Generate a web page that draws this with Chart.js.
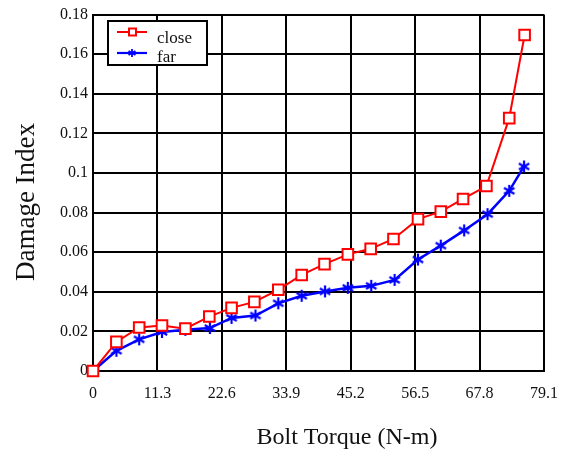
<!DOCTYPE html>
<html>
<head>
<meta charset="utf-8">
<script src="https://cdn.jsdelivr.net/npm/chart.js@4/dist/chart.umd.min.js"></script>
<style>
  html, body { margin: 0; padding: 0; background: #fff; }
  canvas { display: block; }
</style>
</head>
<body>
<canvas id="chartDamage" width="571" height="454"></canvas>
<script>
// Bolt torque (N-m) and damage index
const closeX = [0, 4.1, 8.1, 12.1, 16.2, 20.4, 24.3, 28.3, 32.5, 36.6, 40.6, 44.7, 48.7, 52.7, 57.0, 61.0, 64.9, 69.0, 73.0, 75.7];
const closeY = [0, 0.0147, 0.022, 0.023, 0.0214, 0.0275, 0.0319, 0.0349, 0.041, 0.0485, 0.054, 0.0589, 0.0617, 0.0667, 0.0767, 0.0805, 0.0869, 0.0934, 0.1277, 0.1697];
const farX = [0, 4.1, 8.1, 12.1, 16.2, 20.5, 24.3, 28.5, 32.5, 36.6, 40.7, 44.7, 48.8, 52.9, 57.0, 61.0, 65.1, 69.2, 73.0, 75.6];
const farY = [0, 0.0102, 0.016, 0.0197, 0.0208, 0.0217, 0.0268, 0.028, 0.0342, 0.038, 0.0402, 0.042, 0.043, 0.046, 0.0563, 0.0633, 0.071, 0.0792, 0.091, 0.1033];
const xTicks = [0, 11.3, 22.6, 33.9, 45.2, 56.5, 67.8, 79.1];
const yTicks = [0, 0.02, 0.04, 0.06, 0.08, 0.1, 0.12, 0.14, 0.16, 0.18];

const FONT = "'Liberation Serif', 'DejaVu Serif', serif";

// asterisk marker (vertical + two diagonals)
function makeStar(size, lw) {
  const c = document.createElement("canvas");
  c.width = size; c.height = size;
  const g = c.getContext("2d");
  const r = size / 2 - 1;
  g.strokeStyle = "#0000ff";
  g.lineWidth = lw;
  g.translate(size / 2, size / 2);
  for (let i = 0; i < 3; i++) {
    const a = Math.PI / 2 + i * Math.PI / 3;
    g.beginPath();
    g.moveTo(Math.cos(a) * r, Math.sin(a) * r);
    g.lineTo(-Math.cos(a) * r, -Math.sin(a) * r);
    g.stroke();
  }
  return c;
}
const starBig = makeStar(14, 2.2);
const starSmall = makeStar(10, 1.8);

const pts = (xs, ys) => xs.map((x, i) => ({ x: x, y: ys[i] }));

// titles and boxed legend drawn on top
const decorations = {
  id: "decorations",
  afterDraw(chart) {
    const ctx = chart.ctx;
    ctx.save();
    ctx.fillStyle = "#111";
    ctx.textAlign = "center";
    ctx.textBaseline = "middle";
    ctx.font = "24px " + FONT;
    ctx.fillText("Bolt Torque (N-m)", 347, 438);
    ctx.save();
    ctx.translate(27, 202);
    ctx.rotate(-Math.PI / 2);
    ctx.font = "27px " + FONT;
    ctx.fillText("Damage Index", 0, 0);
    ctx.restore();

    // legend box
    ctx.fillStyle = "#fff";
    ctx.fillRect(108, 21, 99, 44);
    ctx.strokeStyle = "#000";
    ctx.lineWidth = 2;
    ctx.strokeRect(108, 21, 99, 44);

    const ds = chart.data.datasets;
    // close
    ctx.strokeStyle = ds[0].borderColor;
    ctx.lineWidth = 2;
    ctx.beginPath(); ctx.moveTo(117, 32); ctx.lineTo(147, 32); ctx.stroke();
    ctx.fillStyle = "#fff";
    ctx.fillRect(129, 28.5, 7, 7);
    ctx.strokeRect(129, 28.5, 7, 7);
    // far
    ctx.strokeStyle = ds[1].borderColor;
    ctx.lineWidth = 2.2;
    ctx.beginPath(); ctx.moveTo(117, 53); ctx.lineTo(147, 53); ctx.stroke();
    ctx.drawImage(starSmall, 132 - 5, 53 - 5);

    ctx.fillStyle = "#111";
    ctx.textAlign = "left";
    ctx.textBaseline = "alphabetic";
    ctx.font = "17px " + FONT;
    ctx.fillText(ds[0].label, 157, 43);
    ctx.fillText(ds[1].label, 157, 62);
    ctx.restore();
  }
};

new Chart(document.getElementById("chartDamage"), {
  type: "line",
  data: {
    datasets: [{
      label: "close",
      data: pts(closeX, closeY),
      borderColor: "#ff0000",
      backgroundColor: "#ffffff",
      borderWidth: 2,
      pointStyle: "rect",
      pointRadius: 7.5,
      pointBorderWidth: 2,
      pointBorderColor: "#ff0000",
      pointBackgroundColor: "#ffffff",
      tension: 0,
      clip: false
    }, {
      label: "far",
      data: pts(farX, farY),
      borderColor: "#0000ff",
      backgroundColor: "#0000ff",
      borderWidth: 2.5,
      pointStyle: starBig,
      pointRadius: 7,
      tension: 0,
      clip: false
    }]
  },
  options: {
    responsive: false,
    animation: false,
    layout: { padding: { left: 0, right: 24, top: 11, bottom: 0 } },
    plugins: { legend: { display: false }, tooltip: { enabled: false } },
    scales: {
      x: {
        type: "linear",
        min: 0, max: 79.1,
        afterBuildTicks: s => { s.ticks = xTicks.map(v => ({ value: v })); },
        afterFit: s => { s.height = 83; },
        grid: { color: "#000", lineWidth: 2, drawTicks: false },
        border: { color: "#000", width: 2 },
        ticks: { padding: 13, color: "#111", font: { family: FONT, size: 16 }, maxRotation: 0,
                 callback: v => String(v) }
      },
      y: {
        min: 0, max: 0.18,
        afterBuildTicks: s => { s.ticks = yTicks.map(v => ({ value: v })); },
        afterFit: s => { s.width = 93; },
        grid: { color: "#000", lineWidth: 2, drawTicks: false },
        border: { color: "#000", width: 2 },
        ticks: { padding: 5, color: "#111", font: { family: FONT, size: 16 },
                 callback: v => String(v) }
      }
    }
  },
  plugins: [decorations]
});
</script>
</body>
</html>
